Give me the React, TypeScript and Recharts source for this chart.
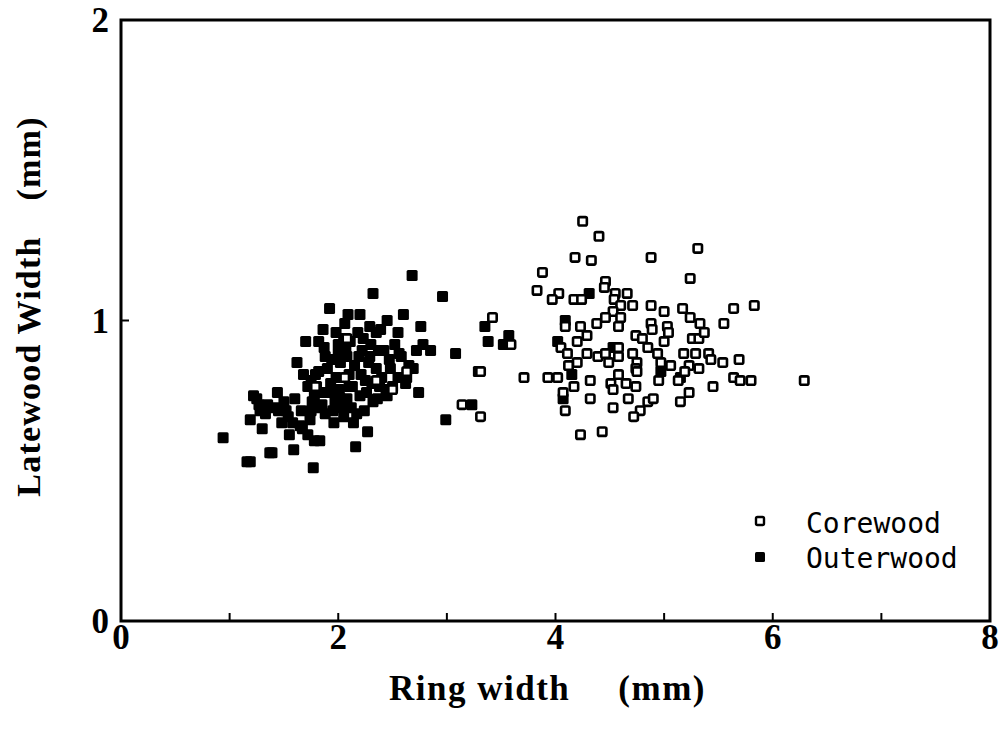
import React from 'react';
import { ScatterChart, Scatter, XAxis, YAxis, ReferenceArea } from 'recharts';

// ring width (mm) / latewood width (mm)
const outerRing = [
  0.94, 1.16, 1.19, 1.22, 1.19, 1.28, 1.30, 1.37, 1.39, 1.44, 1.45, 1.54, 1.50, 1.59, 1.62, 1.65,
  1.67, 1.70, 1.72, 1.77, 1.78, 1.80, 1.82, 1.83, 1.86, 1.88, 1.92, 1.75, 1.78, 1.80, 1.85, 1.90,
  1.92, 1.95, 1.98, 2.00, 2.02, 2.05, 2.05, 2.08, 2.09, 2.10, 2.12, 2.15, 2.16, 2.18, 2.20, 2.20,
  2.22, 2.25, 2.27, 2.28, 2.29, 2.30, 2.32, 2.32, 2.35, 2.38, 2.39, 2.42, 2.45, 2.45, 2.48, 2.50,
  2.52, 2.55, 2.58, 2.60, 2.62, 2.65, 2.68, 2.69, 2.72, 2.74, 2.76, 2.78, 2.85, 2.96, 2.99, 3.08,
  3.23, 3.29, 3.35, 3.38, 3.52, 3.57, 4.02, 4.09, 4.07, 4.15, 4.31, 4.53, 4.97, 5.15, 1.72, 1.75,
  1.96, 2.02, 2.10, 2.14, 2.24, 1.60, 1.55, 1.35, 1.25, 1.48, 2.35, 2.55, 1.98, 2.06, 1.82, 1.68,
  1.76, 1.84, 1.88, 1.93, 1.97, 2.01, 2.04, 2.08, 2.13, 2.17, 2.21, 2.26, 2.31, 2.36, 2.40, 2.44,
  1.74, 1.79, 1.87, 1.94, 2.00, 2.07, 2.11, 2.19, 2.23, 2.29, 2.37, 2.47, 2.56, 2.63, 1.66, 1.58,
  1.42, 1.33, 1.27, 1.52,
];
const outerLate = [
  0.61, 0.53, 0.53, 0.75, 0.67, 0.70, 0.64, 0.56, 0.56, 0.76, 0.70, 0.68, 0.73, 0.57, 0.86, 0.65,
  0.64, 0.93, 0.62, 0.51, 0.60, 0.71, 0.93, 0.60, 0.97, 0.88, 1.04, 0.80, 0.75, 0.78, 0.72, 0.84,
  0.76, 0.70, 0.81, 0.92, 0.74, 0.94, 0.68, 0.88, 1.02, 0.78, 0.71, 0.85, 0.58, 0.96, 1.02, 0.75,
  0.90, 0.80, 0.63, 0.86, 0.98, 0.92, 1.09, 0.73, 0.84, 0.78, 0.97, 0.90, 1.00, 0.75, 0.84, 0.78,
  0.92, 0.81, 0.88, 1.02, 0.79, 0.85, 1.15, 0.84, 0.90, 0.76, 0.98, 0.92, 0.90, 1.08, 0.67, 0.89,
  0.72, 0.83, 0.98, 0.93, 0.92, 0.95, 0.93, 1.00, 0.74, 0.82, 1.09, 0.91, 0.83, 0.81, 0.78, 0.70,
  0.66, 0.86, 0.82, 0.66, 0.70, 0.74, 0.62, 0.72, 0.74, 0.66, 0.96, 0.96, 0.96, 0.99, 0.83, 0.82,
  0.73, 0.76, 0.69, 0.79, 0.73, 0.77, 0.71, 0.74, 0.78, 0.69, 0.82, 0.76, 0.79, 0.74, 0.81, 0.77,
  0.67, 0.82, 0.91, 0.87, 0.89, 0.91, 0.93, 0.88, 0.94, 0.88, 0.90, 0.87, 0.89, 0.81, 0.70, 0.66,
  0.71, 0.69, 0.72, 0.70,
];

const coreRing = [
  4.25, 4.40, 5.31, 4.18, 4.33, 4.88, 3.88, 5.24, 3.83, 4.46, 4.45, 4.03, 3.97, 4.17, 4.24, 4.55,
  4.66, 4.54, 4.60, 4.71, 4.53, 4.88, 5.00, 5.17, 5.24, 5.33, 5.64, 5.83, 5.55, 3.42, 4.09, 4.23,
  4.38, 4.46, 4.60, 4.58, 4.88, 4.89, 5.03, 5.04, 5.26, 5.32, 5.37, 4.74, 4.80, 4.85, 5.00, 4.29,
  4.20, 4.05, 4.11, 4.20, 4.12, 4.29, 4.39, 4.46, 4.58, 4.49, 4.58, 4.71, 4.75, 4.74, 4.94, 4.97,
  5.06, 5.18, 5.29, 5.41, 5.43, 5.32, 5.23, 5.19, 5.54, 5.69, 5.64, 5.70, 5.80, 6.29, 5.45, 5.23,
  5.15, 4.95, 5.13, 4.75, 4.58, 4.51, 4.65, 4.74, 4.53, 4.67, 4.85, 4.90, 4.78, 4.72, 4.32, 4.17,
  4.07, 4.32, 4.53, 4.09, 4.23, 4.43, 3.93, 4.02, 3.71, 3.31, 3.14, 3.31, 3.59, 2.08, 1.79, 2.06,
  2.35, 2.50, 2.63,
];
const coreLate = [
  1.33, 1.28, 1.24, 1.21, 1.20, 1.21, 1.16, 1.14, 1.10, 1.13, 1.11, 1.09, 1.07, 1.07, 1.07, 1.09,
  1.09, 1.07, 1.05, 1.05, 1.03, 1.05, 1.03, 1.04, 1.01, 0.99, 1.04, 1.05, 0.99, 1.01, 0.98, 0.98,
  0.99, 1.01, 1.01, 0.98, 0.99, 0.97, 0.98, 0.96, 0.94, 0.94, 0.96, 0.95, 0.94, 0.91, 0.93, 0.95,
  0.93, 0.91, 0.89, 0.86, 0.85, 0.89, 0.88, 0.89, 0.91, 0.86, 0.88, 0.89, 0.86, 0.84, 0.89, 0.86,
  0.85, 0.89, 0.89, 0.89, 0.87, 0.84, 0.85, 0.83, 0.86, 0.87, 0.81, 0.80, 0.80, 0.80, 0.78, 0.76,
  0.73, 0.80, 0.80, 0.83, 0.82, 0.79, 0.79, 0.78, 0.77, 0.74, 0.73, 0.74, 0.70, 0.68, 0.80, 0.78,
  0.76, 0.74, 0.71, 0.70, 0.62, 0.63, 0.81, 0.81, 0.81, 0.83, 0.72, 0.68, 0.92, 0.94, 0.78, 0.81,
  0.80, 0.77, 0.83,
];

const xTicks = [0, 1, 2, 3, 4, 5, 6, 7, 8];
const yTicks = [0, 1, 2];

const outerwood = outerRing.map((x, i) => ({ x, y: outerLate[i] }));
const corewood = coreRing.map((x, i) => ({ x, y: coreLate[i] }));

const SERIF = '"Liberation Serif", "Times New Roman", serif';
const MONO = '"DejaVu Sans Mono", monospace';

const FilledSquare = (props: any) => (
  <rect x={props.cx - 5.5} y={props.cy - 5.5} width={11} height={11} rx={1.5} fill="#000" />
);

const OpenSquare = (props: any) => (
  <rect x={props.cx - 4.2} y={props.cy - 4.2} width={8.4} height={8.4} rx={1.5} fill="#fff" stroke="#000" strokeWidth={2.6} />
);

const XLabel = ({ viewBox }: any) => (
  <text
    x={viewBox.x + viewBox.width / 2 - 8}
    y={700}
    textAnchor="middle"
    fontFamily={SERIF}
    fontWeight="bold"
    fontSize={35}
    letterSpacing={1.5}
    fill="#000"
  >
    Ring width<tspan dx={48}>(mm)</tspan>
  </text>
);

const YLabel = ({ viewBox }: any) => {
  const cx = 40;
  const cy = viewBox.y + viewBox.height / 2 - 14;
  return (
    <text
      x={cx}
      y={cy}
      transform={`rotate(-90 ${cx} ${cy})`}
      textAnchor="middle"
      fontFamily={SERIF}
      fontWeight="bold"
      fontSize={34}
      letterSpacing={1.2}
      fill="#000"
    >
      Latewood Width<tspan dx={36}>(mm)</tspan>
    </text>
  );
};

function LegendBox() {
  return (
    <svg width={240} height={80} style={{ position: 'absolute', left: 748, top: 505 }}>
      <rect x={8} y={12} width={8} height={8} rx={1.5} fill="#fff" stroke="#000" strokeWidth={2.4} />
      <text x={58} y={28} fontFamily={MONO} fontSize={28} fill="#000">Corewood</text>
      <rect x={7} y={47} width={10} height={10} rx={1.5} fill="#000" />
      <text x={58} y={63} fontFamily={MONO} fontSize={28} fill="#000">Outerwood</text>
    </svg>
  );
}

export default function App() {
  const tickStyle = { fill: '#000', fontFamily: SERIF, fontWeight: 'bold' as const, fontSize: 35 };
  return (
    <div style={{ position: 'absolute', left: 0, top: 0, width: 1005, height: 730, background: '#fff' }}>
      <ScatterChart width={1005} height={730} margin={{ top: 20, right: 15, bottom: 0, left: 0 }}>
        <XAxis
          type="number"
          dataKey="x"
          domain={[0, 8]}
          ticks={xTicks}
          tickFormatter={(v: number) => (v % 2 === 0 ? String(v) : '')}
          height={109}
          axisLine={false}
          tickLine={{ stroke: '#000', strokeWidth: 2 }}
          tickSize={-8}
          tickMargin={11}
          tick={tickStyle}
          label={<XLabel />}
        />
        <YAxis
          type="number"
          dataKey="y"
          domain={[0, 2]}
          ticks={yTicks}
          width={121}
          axisLine={false}
          tickLine={{ stroke: '#000', strokeWidth: 2 }}
          tickSize={-8}
          tickMargin={20}
          tick={tickStyle}
          label={<YLabel />}
        />
        <ReferenceArea x1={0} x2={8} y1={0} y2={2} fill="none" stroke="#000" strokeWidth={3} />
        <Scatter name="Outerwood" data={outerwood} shape={<FilledSquare />} isAnimationActive={false} />
        <Scatter name="Corewood" data={corewood} shape={<OpenSquare />} isAnimationActive={false} />
      </ScatterChart>
      <LegendBox />
    </div>
  );
}
